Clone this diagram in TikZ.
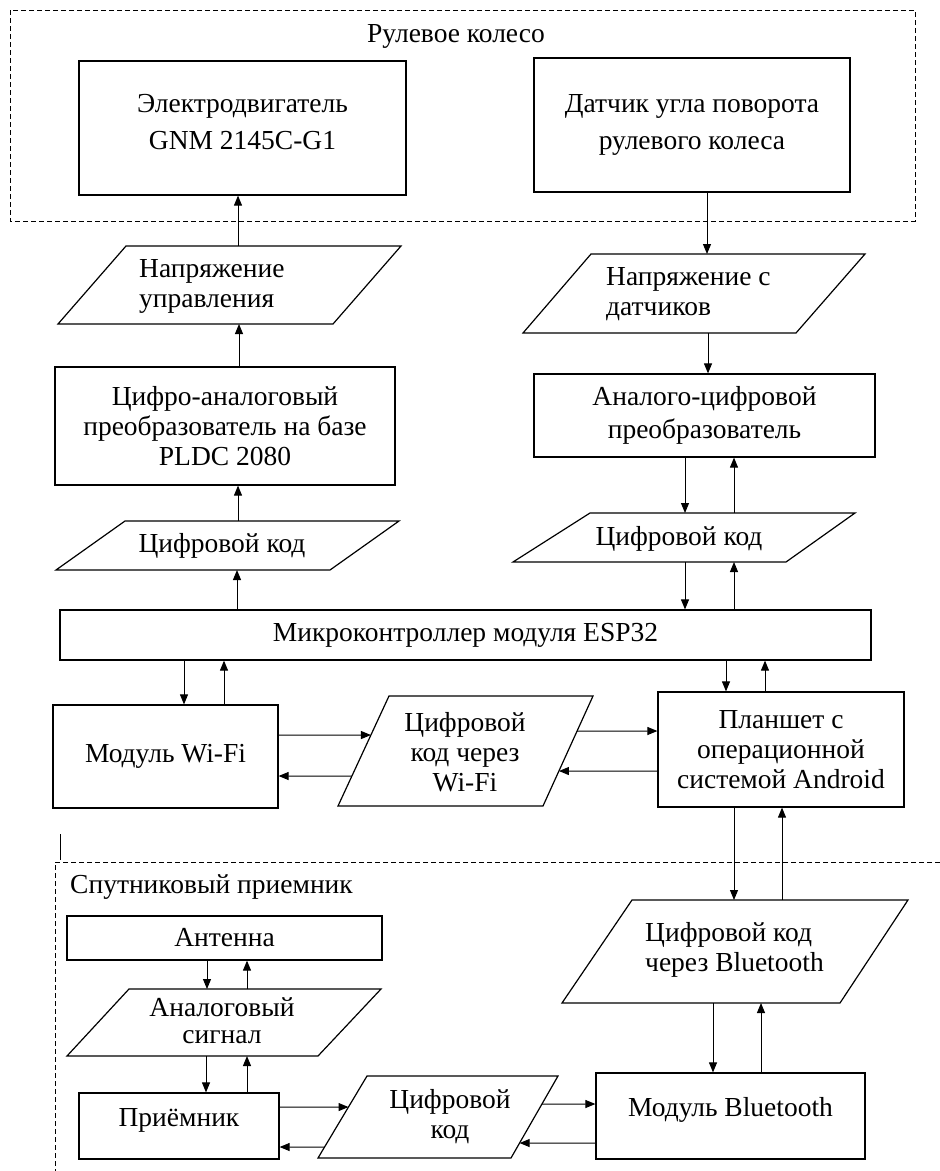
\documentclass[tikz,border=0pt]{standalone}
\usepackage{fontspec}
\setmainfont{Liberation Serif}
\usetikzlibrary{arrows.meta}
\newcommand\mkpara[5]{%
  \coordinate (#1tl) at (#2); \coordinate (#1tr) at (#3);
  \coordinate (#1br) at (#4); \coordinate (#1bl) at (#5);
  \draw[parabox] (#1tl) -- (#1tr) -- (#1br) -- (#1bl) -- cycle;}
\begin{document}
\begin{tikzpicture}[x=1pt,y=-1pt,
  font=\fontsize{27.5}{30}\selectfont,
  box/.style={draw, line width=1.2pt, inner sep=0pt, align=center},
  txt/.style={inner sep=0pt, align=center},
  parabox/.style={draw, line width=1.2pt, line join=miter},
  arr/.style={line width=1pt, -{Triangle[length=10pt,width=8pt]}},
  frame/.style={line width=1pt, dash pattern=on 5pt off 3pt}]
\useasboundingbox (0,0) rectangle (940,1171);

% frames
\draw[frame] (10,10) rectangle (915,221);
\node[txt] (L1) at (456,36) {Рулевое колесо};
\draw[frame] (940,862) -- (55,862) -- (55,1171);
\node[txt, anchor=west] (L2) at (70,887) {Спутниковый приемник};
\draw[line width=1pt] (60,834) -- (60,860);

% rectangles
\node[box, minimum width=327, minimum height=134, font=\fontsize{27.5}{37}\selectfont] (B1) at (242.5,128) {Электродвигатель\\GNM 2145C-G1\\[-25pt]\mbox{}};
\node[box, minimum width=316, minimum height=134, font=\fontsize{27.5}{37}\selectfont] (B2) at (692,125) {Датчик угла поворота\\рулевого колеса};
\node[box, minimum width=340, minimum height=118] (B3) at (225,426) {Цифро-аналоговый\\преобразователь на базе\\PLDC 2080};
\node[box, minimum width=341, minimum height=83, font=\fontsize{27.5}{33}\selectfont] (B4) at (704.5,415.5) {Аналого-цифровой\\преобразователь};
\node[box, minimum width=811, minimum height=50] (ESP) at (465.5,635) {Микроконтроллер модуля ESP32};
\node[box, minimum width=225, minimum height=103] (WiFi) at (165.5,756.5) {Модуль Wi-Fi};
\node[box, minimum width=246, minimum height=115] (Tab) at (781,749.5) {Планшет с\\операционной\\системой Android};
\node[box, minimum width=315, minimum height=44] (Ant) at (224.5,938) {Антенна};
\node[box, minimum width=200, minimum height=66] (Recv) at (179,1126) {Приёмник\\[-12pt]\mbox{}};
\node[box, minimum width=269, minimum height=86] (BTm) at (730.5,1116) {Модуль Bluetooth\\[-12pt]\mbox{}};

% parallelograms
\mkpara{P1}{126,246}{401,246}{333,324}{58,324}
\node[txt, align=left, anchor=west] (P1) at (139,286) {Напряжение\\управления};
\mkpara{P2}{591,254}{865,254}{796,333}{523,333}
\node[txt, align=left, anchor=west] (P2) at (606,294) {Напряжение с\\датчиков};
\mkpara{P3}{125,521}{399,521}{330,570}{56,570}
\node[txt] (P3) at (222,546) {Цифровой код};
\mkpara{P4}{590,513}{855,513}{786,562}{513,562}
\node[txt] (P4) at (679,539) {Цифровой код};
\mkpara{P5}{389,696}{593,696}{543,806}{338,806}
\node[txt] (P5) at (465,752) {Цифровой\\код через\\Wi-Fi};
\mkpara{P6}{632,900}{908,900}{840,1003}{562,1003}
\node[txt, align=left, anchor=west] (P6) at (645,950) {Цифровой код\\через Bluetooth};
\mkpara{P7}{129,989}{381,989}{318,1056}{67,1056}
\node[txt, font=\fontsize{27.5}{27}\selectfont] (P7) at (222,1021) {Аналоговый\\сигнал};
\mkpara{P8}{367,1076}{558,1076}{511,1158}{318,1158}
\node[txt] (P8) at (450,1117) {Цифровой\\код};

% connectors: upper left chain
\draw[arr] (238,0 |- P1tl) -- (238,0 |- B1.south);
\draw[arr] (239,0 |- B3.north) -- (239,0 |- P1bl);
\draw[arr] (238,0 |- P3tl) -- (238,0 |- B3.south);
\draw[arr] (237,0 |- ESP.north) -- (237,0 |- P3bl);
% upper right chain
\draw[arr] (707,0 |- B2.south) -- (707,0 |- P2tl);
\draw[arr] (708,0 |- P2bl) -- (708,0 |- B4.north);
\draw[arr] (685,0 |- B4.south) -- (685,0 |- P4tl);
\draw[arr] (734,0 |- P4tl) -- (734,0 |- B4.south);
\draw[arr] (685,0 |- P4bl) -- (685,0 |- ESP.north);
\draw[arr] (734,0 |- ESP.north) -- (734,0 |- P4bl);
% ESP to WiFi and tablet
\draw[arr] (184,0 |- ESP.south) -- (184,0 |- WiFi.north);
\draw[arr] (224,0 |- WiFi.north) -- (224,0 |- ESP.south);
\draw[arr] (726,0 |- ESP.south) -- (726,0 |- Tab.north);
\draw[arr] (765,0 |- Tab.north) -- (765,0 |- ESP.south);
% WiFi <-> P5 <-> tablet
\draw[arr] (WiFi.east |- 0,735) -- (intersection of P5tl--P5bl and 0,735--1,735);
\draw[arr] (intersection of P5tl--P5bl and 0,776--1,776) -- (WiFi.east |- 0,776);
\draw[arr] (intersection of P5tr--P5br and 0,731--1,731) -- (Tab.west |- 0,731);
\draw[arr] (Tab.west |- 0,771) -- (intersection of P5tr--P5br and 0,771--1,771);
% tablet <-> P6 <-> BT module
\draw[arr] (734,0 |- Tab.south) -- (734,0 |- P6tl);
\draw[arr] (782,0 |- P6tl) -- (782,0 |- Tab.south);
\draw[arr] (713,0 |- P6bl) -- (713,0 |- BTm.north);
\draw[arr] (761,0 |- BTm.north) -- (761,0 |- P6bl);
% satellite receiver chain
\draw[arr] (207,0 |- Ant.south) -- (207,0 |- P7tl);
\draw[arr] (247,0 |- P7tl) -- (247,0 |- Ant.south);
\draw[arr] (206,0 |- P7bl) -- (206,0 |- Recv.north);
\draw[arr] (247,0 |- Recv.north) -- (247,0 |- P7bl);
\draw[arr] (Recv.east |- 0,1107) -- (intersection of P8tl--P8bl and 0,1107--1,1107);
\draw[arr] (intersection of P8tl--P8bl and 0,1147--1,1147) -- (Recv.east |- 0,1147);
\draw[arr] (intersection of P8tr--P8br and 0,1104--1,1104) -- (BTm.west |- 0,1104);
\draw[arr] (BTm.west |- 0,1143) -- (intersection of P8tr--P8br and 0,1143--1,1143);
\end{tikzpicture}
\end{document}
